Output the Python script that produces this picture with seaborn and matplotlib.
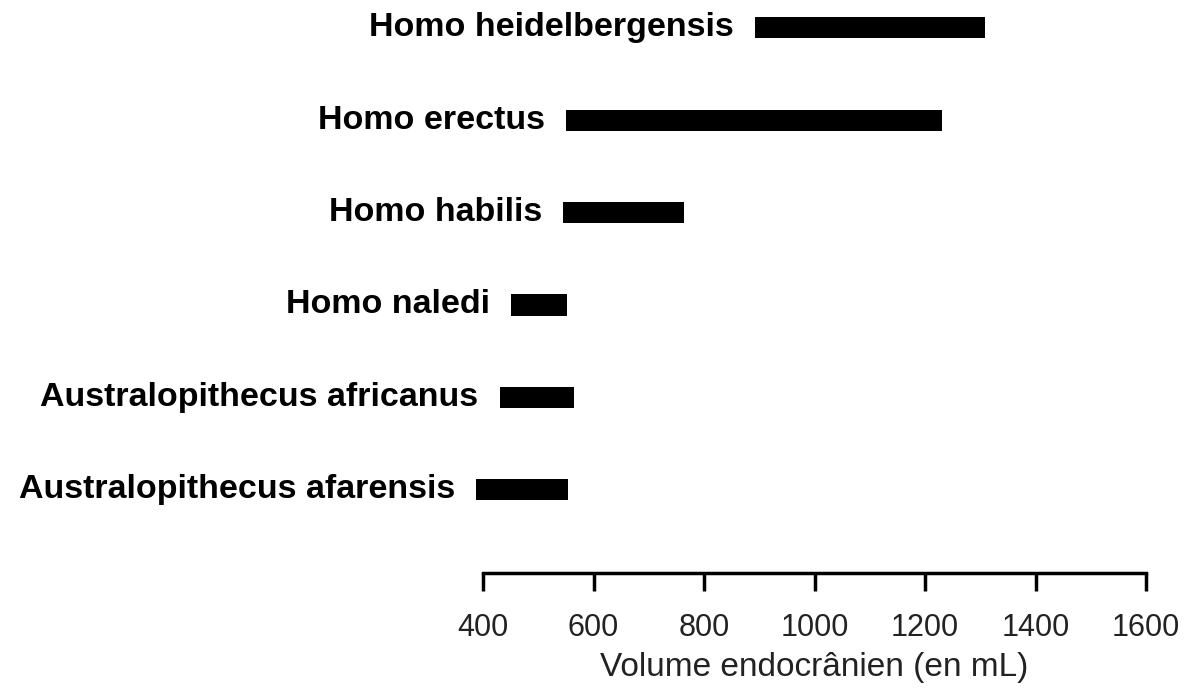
import pandas as pd
import seaborn as sns
import matplotlib.pyplot as plt

# Data: endocranial volume ranges (mL)
species = [
    "Homo heidelbergensis",
    "Homo erectus",
    "Homo habilis",
    "Homo naledi",
    "Australopithecus africanus",
    "Australopithecus afarensis",
]
vol_min = [892, 550, 545, 451, 430, 388]
vol_max = [1308, 1230, 763, 552, 565, 553]
x_ticks = [400, 600, 800, 1000, 1200, 1400, 1600]

df = pd.DataFrame({"species": species, "vmin": vol_min, "vmax": vol_max})
df["span"] = df["vmax"] - df["vmin"]

sns.set_theme(style="white")
plt.rcParams["font.family"] = ["Liberation Sans", "DejaVu Sans"]

fig = plt.figure(figsize=(11.92, 6.90), dpi=100)
ax = fig.add_axes([0, 117 / 690, 1, 573 / 690])

sns.barplot(data=df, x="span", y="species", left=df["vmin"].values,
            color="black", width=0.23, orient="h", ax=ax, linewidth=0)

# labels just left of each bar
for i, row in df.iterrows():
    ax.text(row["vmin"] - 38, i, row["species"], ha="right", va="center",
            fontsize=24.5, fontweight="bold", color="black")

ax.set_xlim(-474, 1683)
ax.set_ylim(5.9, -0.3)
ax.set_yticks([])
ax.set_ylabel("")
for s in ["top", "left", "right"]:
    ax.spines[s].set_visible(False)
ax.spines["bottom"].set_bounds(400, 1600)
ax.spines["bottom"].set_linewidth(2.5)
ax.spines["bottom"].set_color("black")
ax.set_xticks(x_ticks)
ax.set_xticklabels([str(t) for t in x_ticks])
ax.tick_params(axis="x", direction="out", length=13, width=2.5, labelsize=22,
               colors="black", labelcolor="#222222", pad=16, bottom=True)
ax.set_xlabel("Volume endocrânien (en mL)", fontsize=24, labelpad=6, color="#222222")
ax.xaxis.label.set_x((1000 + 474) / (1683 + 474))

fig.savefig("out.png", dpi=100)
